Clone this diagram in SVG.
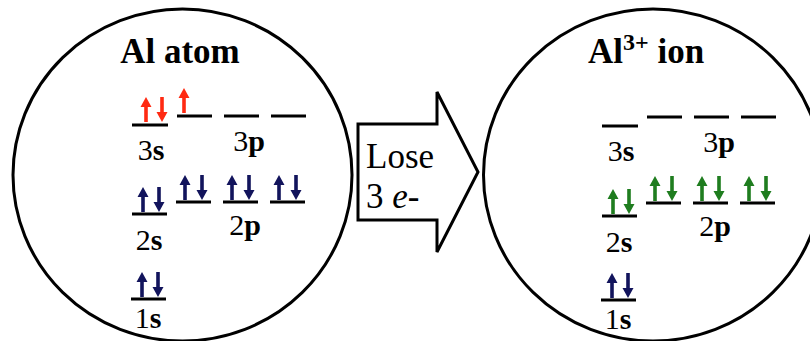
<svg xmlns="http://www.w3.org/2000/svg" width="810" height="341" viewBox="0 0 810 341">
<defs>
<style>
.ring{fill:none;stroke:#000;stroke-width:3}
.lvl{stroke:#000;stroke-width:3}
.ttl{font-weight:bold;font-size:35px;fill:#000}
.lab{font-size:30px;fill:#000}
.b{font-weight:bold}
.txt{font-size:35px;fill:#000}
.red{fill:#ff2a12}
.navy{fill:#12145c}
.green{fill:#1f7d1f}
</style>
<path id="up" d="M0,0 L5.5,10 L1.8,10 L1.8,25 L-1.8,25 L-1.8,10 L-5.5,10 Z"/>
<path id="dn" d="M0,25 L5.5,15 L1.8,15 L1.8,0 L-1.8,0 L-1.8,15 L-5.5,15 Z"/>
</defs>
<rect width="810" height="341" fill="#fff"/>

<g id="atom">
<ellipse class="ring" cx="182.5" cy="175" rx="169.5" ry="166"/>
<text class="ttl" font-family="Liberation Serif" x="180" y="63" text-anchor="middle">Al atom</text>
<g id="atom-3s">
<line class="lvl" x1="132" y1="125" x2="168" y2="125"/>
<use href="#up" x="146" y="97" class="red"/>
<use href="#dn" x="162" y="97" class="red"/>
<text class="lab" font-family="Liberation Serif" x="151" y="160" text-anchor="middle">3<tspan class="b">s</tspan></text>
</g>
<g id="atom-3p">
<line class="lvl" x1="177" y1="116" x2="212" y2="116"/>
<line class="lvl" x1="224" y1="116" x2="259" y2="116"/>
<line class="lvl" x1="271" y1="116" x2="306" y2="116"/>
<use href="#up" x="184" y="88" class="red"/>
<text class="lab" font-family="Liberation Serif" x="249" y="151" text-anchor="middle">3<tspan class="b">p</tspan></text>
</g>
<g id="atom-2s">
<line class="lvl" x1="132" y1="214" x2="167" y2="214"/>
<use href="#up" x="143" y="187" class="navy"/>
<use href="#dn" x="159" y="187" class="navy"/>
<text class="lab" font-family="Liberation Serif" x="149" y="250" text-anchor="middle">2<tspan class="b">s</tspan></text>
</g>
<g id="atom-2p">
<line class="lvl" x1="176" y1="202" x2="211" y2="202"/>
<line class="lvl" x1="223" y1="202" x2="258" y2="202"/>
<line class="lvl" x1="270" y1="202" x2="305" y2="202"/>
<use href="#up" x="185" y="175" class="navy"/>
<use href="#dn" x="202" y="175" class="navy"/>
<use href="#up" x="232" y="175" class="navy"/>
<use href="#dn" x="249" y="175" class="navy"/>
<use href="#up" x="279" y="175" class="navy"/>
<use href="#dn" x="296" y="175" class="navy"/>
<text class="lab" font-family="Liberation Serif" x="245" y="235" text-anchor="middle">2<tspan class="b">p</tspan></text>
</g>
<g id="atom-1s">
<line class="lvl" x1="131" y1="299" x2="166" y2="299"/>
<use href="#up" x="142" y="272" class="navy"/>
<use href="#dn" x="158" y="272" class="navy"/>
<text class="lab" font-family="Liberation Serif" x="148" y="328" text-anchor="middle">1<tspan class="b">s</tspan></text>
</g>
</g>

<g id="connectors">
<g id="lose-arrow">
<polygon points="358,124 437,124 437,92 478,172 437,252 437,220 358,220" fill="#fff" stroke="#000" stroke-width="3" stroke-linejoin="miter"/>
<text class="txt" font-family="Liberation Serif" x="366" y="168">Lose</text>
<text class="txt" font-family="Liberation Serif" x="366" y="208">3 <tspan font-style="italic">e</tspan>-</text>
</g>
</g>

<g id="ion">
<ellipse class="ring" cx="653" cy="175" rx="169.5" ry="166"/>
<text class="ttl" font-family="Liberation Serif" x="588" y="63">Al<tspan font-size="24" dy="-13">3+</tspan><tspan dy="13"> ion</tspan></text>
<g id="ion-3s">
<line class="lvl" x1="602" y1="126" x2="638" y2="126"/>
<text class="lab" font-family="Liberation Serif" x="621" y="161" text-anchor="middle">3<tspan class="b">s</tspan></text>
</g>
<g id="ion-3p">
<line class="lvl" x1="647" y1="117" x2="682" y2="117"/>
<line class="lvl" x1="694" y1="117" x2="729" y2="117"/>
<line class="lvl" x1="741" y1="117" x2="776" y2="117"/>
<text class="lab" font-family="Liberation Serif" x="719" y="152" text-anchor="middle">3<tspan class="b">p</tspan></text>
</g>
<g id="ion-2s">
<line class="lvl" x1="602" y1="216" x2="637" y2="216"/>
<use href="#up" x="613" y="189" class="green"/>
<use href="#dn" x="629" y="189" class="green"/>
<text class="lab" font-family="Liberation Serif" x="619" y="252" text-anchor="middle">2<tspan class="b">s</tspan></text>
</g>
<g id="ion-2p">
<line class="lvl" x1="646" y1="203" x2="681" y2="203"/>
<line class="lvl" x1="693" y1="203" x2="728" y2="203"/>
<line class="lvl" x1="740" y1="203" x2="775" y2="203"/>
<use href="#up" x="655" y="176" class="green"/>
<use href="#dn" x="672" y="176" class="green"/>
<use href="#up" x="702" y="176" class="green"/>
<use href="#dn" x="719" y="176" class="green"/>
<use href="#up" x="749" y="176" class="green"/>
<use href="#dn" x="766" y="176" class="green"/>
<text class="lab" font-family="Liberation Serif" x="715" y="236" text-anchor="middle">2<tspan class="b">p</tspan></text>
</g>
<g id="ion-1s">
<line class="lvl" x1="601" y1="300" x2="636" y2="300"/>
<use href="#up" x="612" y="273" class="navy"/>
<use href="#dn" x="628" y="273" class="navy"/>
<text class="lab" font-family="Liberation Serif" x="618" y="329" text-anchor="middle">1<tspan class="b">s</tspan></text>
</g>
</g>
</svg>
